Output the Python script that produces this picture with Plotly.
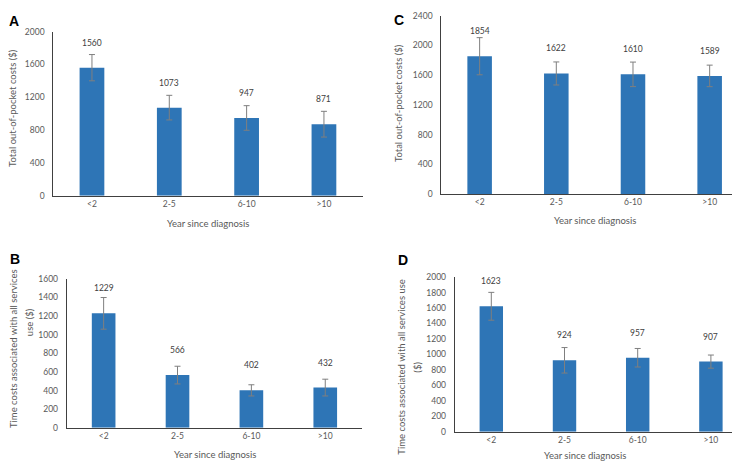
import plotly.graph_objects as go

categories = ["<2", "2-5", "6-10", ">10"]

a_values = [1560, 1073, 947, 871]
a_err = [160, 150, 150, 157]
b_values = [1229, 566, 402, 432]
b_err = [170, 95, 60, 90]
c_values = [1854, 1622, 1610, 1589]
c_err = [250, 155, 165, 145]
d_values = [1623, 924, 957, 907]
d_err = [180, 165, 120, 85]

a_ticks = [0, 400, 800, 1200, 1600, 2000]
b_ticks = [0, 200, 400, 600, 800, 1000, 1200, 1400, 1600]
c_ticks = [0, 400, 800, 1200, 1600, 2000, 2400]
d_ticks = [0, 200, 400, 600, 800, 1000, 1200, 1400, 1600, 1800, 2000]

W, H = 740, 461
BAR = "#2E75B6"
ERR = "#7F7F7F"
TXT = "#595959"
FONT = "Lato"


def px_x(a, b):
    return [a / W, b / W]


def px_y(top, bottom):
    return [1 - bottom / H, 1 - top / H]


panels = [
    ("A", a_values, a_err, a_ticks, "x", "y", px_x(45.3, 354.6), px_y(19, 186.7), 2000),
    ("C", c_values, c_err, c_ticks, "x2", "y2", px_x(433.3, 740), px_y(2.7, 185), 2400),
    ("B", b_values, b_err, b_ticks, "x3", "y3", px_x(58.7, 354.2), px_y(271.7, 424), 1600),
    ("D", d_values, d_err, d_ticks, "x4", "y4", px_x(446.7, 739.5), px_y(270, 428), 2000),
]

fig = go.Figure()
layout = dict(
    width=W, height=H, margin=dict(l=0, r=0, t=0, b=0),
    paper_bgcolor="white", plot_bgcolor="white", showlegend=False,
    font=dict(family=FONT, size=8.5, color=TXT),
)
annotations = []

for name, vals, errs, ticks, xa, ya, xd, yd, ymax in panels:
    fig.add_trace(go.Bar(
        x=categories, y=vals, xaxis=xa, yaxis=ya,
        marker=dict(color=BAR, line=dict(width=0)), width=0.32,
        error_y=dict(type="data", array=errs, visible=True, color=ERR, thickness=1, width=3),
    ))
    xkey = "xaxis" + xa[1:]
    ykey = "yaxis" + ya[1:]
    layout[xkey] = dict(
        domain=xd, anchor=ya, type="category", range=[-0.5, 3.5],
        showline=True, linecolor="#404040", linewidth=1, showgrid=False,
        ticks="", tickfont=dict(size=8.5, color=TXT), fixedrange=True,
    )
    layout[ykey] = dict(
        domain=yd, anchor=xa, range=[0, ymax], tickvals=ticks,
        showline=True, linecolor="#404040", linewidth=1, showgrid=False,
        zeroline=False, ticks="", tickfont=dict(size=8.5, color=TXT),
        ticklabelstandoff=6, fixedrange=True,
    )
    for c, v in zip(categories, vals):
        annotations.append(dict(
            x=c, y=v, xref=xa, yref=ya, text=str(v), showarrow=False,
            yshift=25, font=dict(size=8.5, color="#404040"),
        ))

# panel letters
for letter, x, y in [("A", 5.5, 8), ("C", 391, 7), ("B", 6.5, 251), ("D", 395, 252)]:
    annotations.append(dict(
        x=x / W, y=1 - y / H, xref="paper", yref="paper", text=letter,
        showarrow=False, xanchor="center", yanchor="middle",
        font=dict(family="Liberation Sans", size=14, color="black", weight="bold"),
    ))

# x-axis titles
for text, x, y in [
    ("Year since diagnosis", 200, 215),
    ("Year since diagnosis", 587, 212),
    ("Year since diagnosis", 207, 451),
    ("Year since diagnosis", 577, 452.5),
]:
    annotations.append(dict(
        x=x / W, y=1 - y / H, xref="paper", yref="paper", text=text,
        showarrow=False, xanchor="center", yanchor="middle",
        font=dict(size=9.5, color=TXT),
    ))

# y-axis titles
YT_SHIFT = -4
for text, x, y in [
    ("Total out-of-pocket costs ($)", 9, 97),
    ("Total out-of-pocket costs ($)", 394, 92),
    ("Time costs associated with all services", 9, 343.5),
    ("use ($)", 25, 316),
    ("Time costs associated with all services use", 398, 361.5),
    ("($)", 413.5, 362),
]:
    annotations.append(dict(
        x=(x + YT_SHIFT) / W, y=1 - y / H, xref="paper", yref="paper", text=text,
        showarrow=False, xanchor="center", yanchor="middle", textangle=-90,
        font=dict(size=9.5, color=TXT),
    ))

layout["annotations"] = annotations
fig.update_layout(**layout)
fig.write_html("out.html")
